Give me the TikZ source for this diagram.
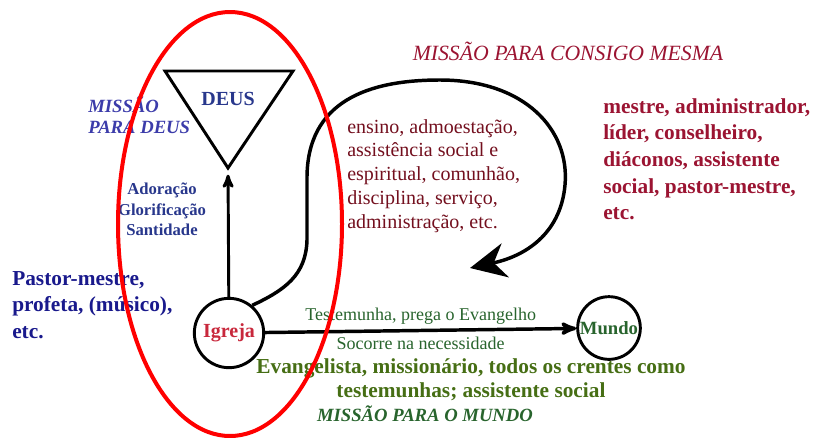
\documentclass[tikz,border=0pt]{standalone}
\usepackage{fontspec}
\setmainfont{Liberation Serif}
\usepackage{tikz}
\usetikzlibrary{arrows,arrows.meta}
\definecolor{navy}{RGB}{25,25,140}
\definecolor{deusblue}{RGB}{40,55,140}
\definecolor{violetblue}{RGB}{60,60,170}
\definecolor{wine}{RGB}{155,20,50}
\definecolor{darkwine}{RGB}{115,15,30}
\definecolor{igrejared}{RGB}{200,40,60}
\definecolor{olive}{RGB}{70,110,20}
\definecolor{leaf}{RGB}{40,100,45}

\begin{document}
\begin{tikzpicture}[x=0.75pt,y=-0.75pt,
  big/.style={font=\fontsize{16}{20}\selectfont\bfseries,align=left,inner sep=0pt}]
\useasboundingbox (0,0) rectangle (834,437);
% triangle for God
\coordinate(apex) at (228,168);
\draw[line width=2.2pt,line join=miter] (165,71)--(293,71)--(apex)--cycle;
\node(deus)[text=deusblue,font=\fontsize{15}{15}\selectfont\bfseries,anchor=base] at (228,105){DEUS};
\node(church)[shape=circle,draw,line width=2.2pt,minimum size=52pt,inner sep=0pt,text=igrejared,font=\fontsize{15}{15}\selectfont\bfseries] at (229,333){Igreja};
\node(world)[shape=circle,draw,line width=2.2pt,minimum size=47pt,inner sep=0pt,text=leaf,font=\fontsize{14}{14}\selectfont\bfseries] at (609,328){Mundo};
% the three missions
\draw[->,>=stealth',line width=2.2pt,shorten >=5pt] (church)--(apex);
\draw[->,>=stealth',line width=2.6pt] (church)--(world)
  node[midway,above,text=leaf,font=\fontsize{13.5}{13.5}\selectfont]{Testemunha, prega o Evangelho}
  node[midway,below,text=leaf,font=\fontsize{13.5}{13.5}\selectfont]{Socorre na necessidade};
\coordinate(loopend) at (470,268);
\draw[line width=2.6pt,-{Stealth[length=27pt,width=26pt]}] (church.50) .. controls (285,290) and (306,275) .. (307,240)
  -- (307,180) .. controls (306,100) and (370,80) .. (440,80)
  .. controls (525,80) and (570,130) .. (565,185)
  .. controls (561,230) and (530,255) .. (loopend);
% labels
\node(paradeus)[text=violetblue,font=\fontsize{14}{15.75}\selectfont\bfseries\itshape,align=left,anchor=north west,inner sep=0pt] at (88,96){MISSÃO\\PARA DEUS};
\node(adoracao)[text=deusblue,font=\fontsize{12.5}{15.4}\selectfont\bfseries,align=center,anchor=north,inner sep=0pt] at (162,183){Adoração\\Glorificação\\Santidade};
\node(pastor)[big,text=navy,anchor=north west] at (12,271){Pastor-mestre,\\profeta, (músico),\\etc.};
\node(consigo)[text=wine,font=\fontsize{16.3}{16.3}\selectfont\itshape,anchor=base] at (568,60){MISSÃO PARA CONSIGO MESMA};
\node(ensino)[text=darkwine,font=\fontsize{15}{17.8}\selectfont,align=left,anchor=north west,inner sep=0pt] at (347,119){ensino, admoestação,\\assistência social e\\espiritual, comunhão,\\disciplina, serviço,\\administração, etc.};
\node(mestre)[big,text=wine,anchor=north west] at (603,98){mestre, administrador,\\líder, conselheiro,\\diáconos, assistente\\social, pastor-mestre,\\etc.};
\node(crentes)[big,font=\fontsize{16}{18.5}\selectfont\bfseries,text=olive,align=center,anchor=north] at (471,358){Evangelista, missionário, todos os crentes como\\testemunhas; assistente social};
\node(paramundo)[text=leaf,font=\fontsize{14}{14}\selectfont\bfseries\itshape,anchor=base] at (425,421){MISSÃO PARA O MUNDO};
% red frame round church and God
\draw[red,line width=3pt] (230,224) ellipse [x radius=112,y radius=212];
\end{tikzpicture}
\end{document}
